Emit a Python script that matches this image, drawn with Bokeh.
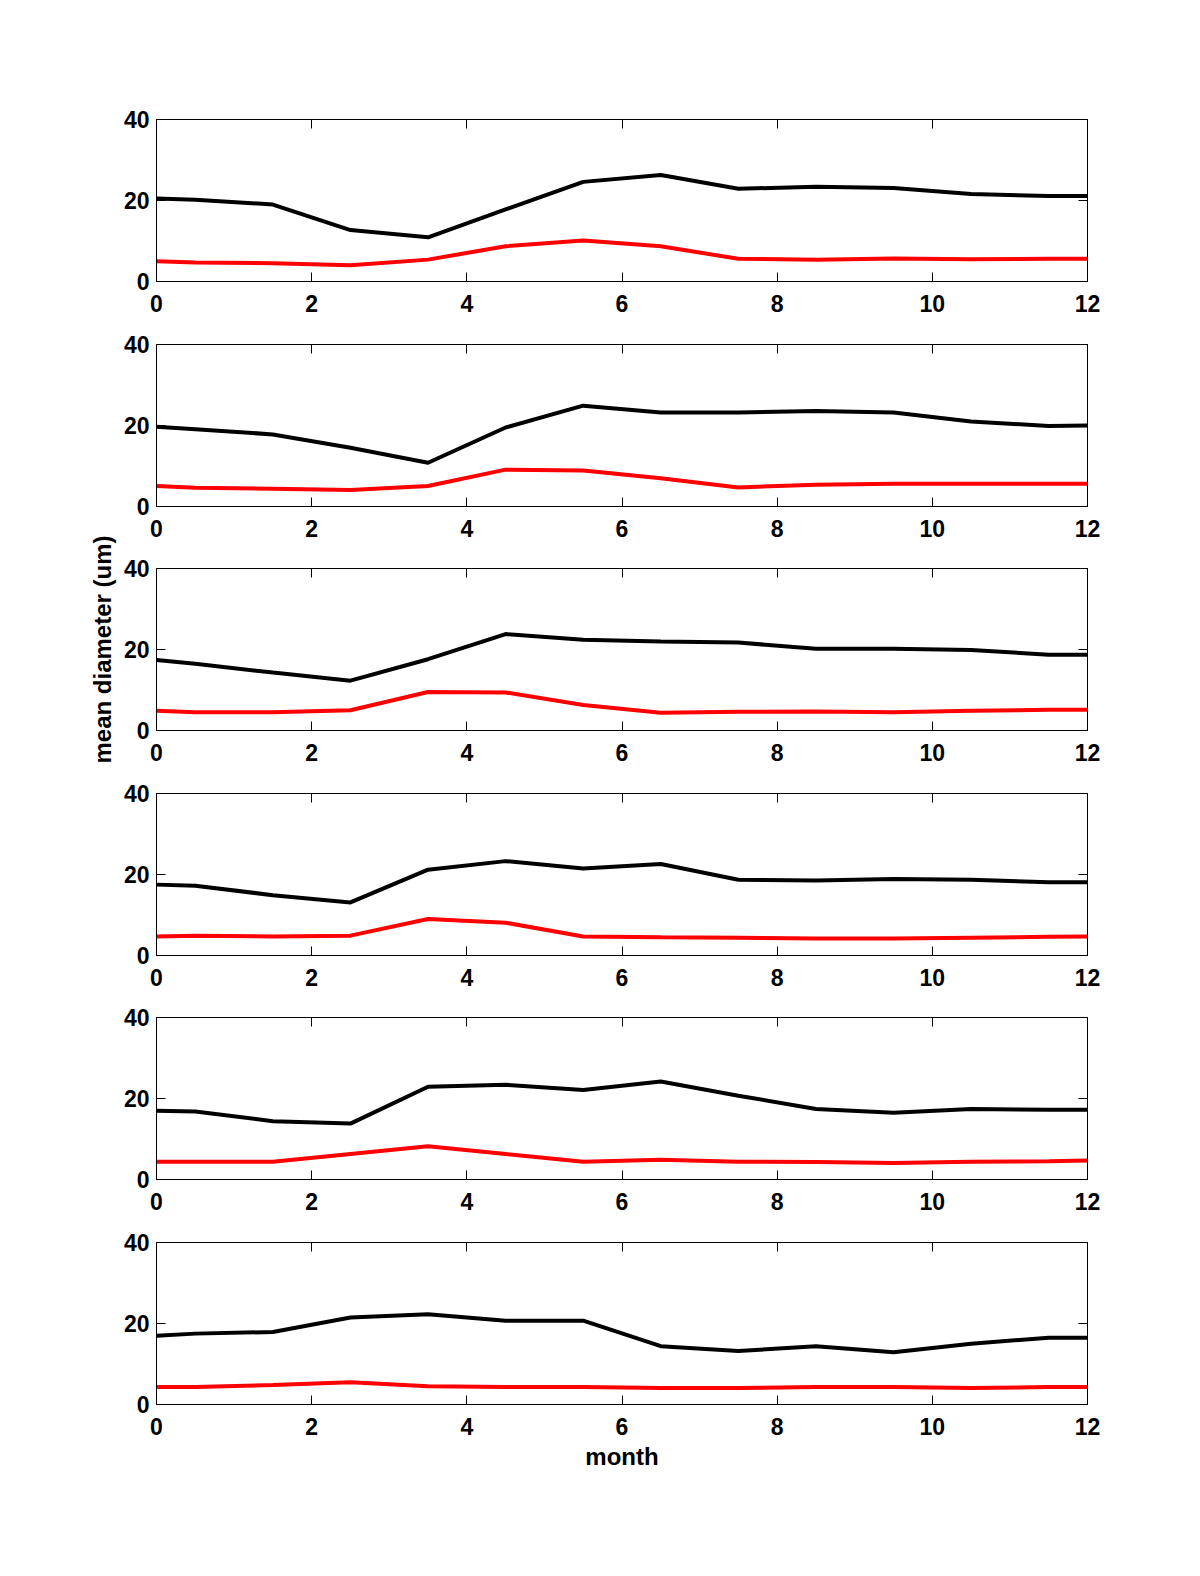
import math
from bokeh.plotting import figure
from bokeh.layouts import column, row
from bokeh.models import Range1d, FixedTicker, LinearAxis, Label
from bokeh.embed import file_html
from bokeh.resources import INLINE

# month positions (mid-month samples plus both ends)
months = [0, 0.5, 1.5, 2.5, 3.5, 4.5, 5.5, 6.5, 7.5, 8.5, 9.5, 10.5, 11.5, 12]

black_1 = [20.5, 20.2, 19.0, 12.7, 10.9, 17.8, 24.6, 26.3, 22.9, 23.4, 23.1, 21.6, 21.1, 21.1]
red_1 = [5.0, 4.7, 4.5, 4.0, 5.4, 8.7, 10.1, 8.7, 5.6, 5.4, 5.7, 5.5, 5.6, 5.6]

black_2 = [19.7, 19.1, 17.8, 14.5, 10.8, 19.5, 24.9, 23.2, 23.2, 23.6, 23.2, 21.0, 19.9, 20.0]
red_2 = [5.05, 4.6, 4.4, 4.1, 5.05, 9.1, 8.9, 7.0, 4.7, 5.4, 5.6, 5.6, 5.6, 5.6]

black_3 = [17.4, 16.5, 14.3, 12.3, 17.6, 23.8, 22.4, 22.0, 21.7, 20.2, 20.2, 19.9, 18.7, 18.7]
red_3 = [4.9, 4.5, 4.5, 5.0, 9.5, 9.4, 6.3, 4.4, 4.6, 4.7, 4.5, 4.9, 5.1, 5.1]

black_4 = [17.5, 17.2, 14.9, 13.1, 21.2, 23.3, 21.5, 22.6, 18.7, 18.5, 18.9, 18.7, 18.1, 18.1]
red_4 = [4.7, 4.9, 4.7, 4.9, 9.0, 8.1, 4.7, 4.5, 4.4, 4.2, 4.2, 4.4, 4.6, 4.7]

black_5 = [17.0, 16.8, 14.4, 13.8, 22.9, 23.4, 22.1, 24.2, 20.7, 17.4, 16.5, 17.4, 17.2, 17.2]
red_5 = [4.4, 4.4, 4.4, 6.3, 8.2, 6.3, 4.4, 4.9, 4.4, 4.3, 4.1, 4.4, 4.5, 4.7]

black_6 = [17.0, 17.5, 17.9, 21.5, 22.3, 20.7, 20.7, 14.4, 13.2, 14.4, 12.9, 15.0, 16.5, 16.5]
red_6 = [4.3, 4.3, 4.8, 5.5, 4.5, 4.3, 4.3, 4.1, 4.1, 4.3, 4.3, 4.1, 4.3, 4.3]

x_ticks = [0, 2, 4, 6, 8, 10, 12]
y_ticks = [0, 20, 40]
x_label = "month"
y_label = "mean diameter (um)"

panels = [(black_1, red_1), (black_2, red_2), (black_3, red_3),
          (black_4, red_4), (black_5, red_5), (black_6, red_6)]

FONT = "Liberation Sans"
FS = "23px"
LFS = "24px"
TICK = 9
LEFT_W = 120          # width of the strip that carries the shared y label
FRAME_LEFT = 156

# (top border, bottom border) per panel
borders = [(119, 48), (15, 47), (15, 48), (15, 47), (15, 48), (15, 80)]
FRAME_H = 162


def style_axis(ax):
    ax.major_tick_in = TICK
    ax.major_tick_out = 0
    ax.minor_tick_line_color = None
    ax.major_tick_line_color = "black"
    ax.major_label_text_font = FONT
    ax.major_label_text_font_size = FS
    ax.major_label_text_font_style = "bold"
    ax.major_label_text_color = "black"
    ax.axis_label_text_font = FONT
    ax.axis_label_text_font_size = LFS
    ax.axis_label_text_font_style = "bold"
    ax.axis_label_text_color = "black"


def hide_labels(ax):
    ax.major_label_text_font_size = "1px"
    ax.major_label_text_alpha = 0
    ax.major_label_standoff = 0


figs = []
for i, (blk, red) in enumerate(panels):
    top, bottom = borders[i]
    p = figure(frame_width=931, frame_height=FRAME_H,
               min_border_left=FRAME_LEFT - LEFT_W, min_border_right=111,
               min_border_top=top, min_border_bottom=bottom,
               x_range=Range1d(0, 12), y_range=Range1d(0, 40),
               output_backend="svg", toolbar_location=None,
               background_fill_color="white", border_fill_color="white")
    p.grid.visible = False
    p.outline_line_color = "black"
    p.outline_line_width = 1

    xax = p.xaxis[0]
    yax = p.yaxis[0]
    style_axis(xax)
    style_axis(yax)
    xax.axis_line_color = "black"
    yax.axis_line_color = "black"
    xax.ticker = FixedTicker(ticks=x_ticks)
    yax.ticker = FixedTicker(ticks=y_ticks)
    xax.major_label_standoff = 13
    yax.major_label_standoff = 7

    if i == 5:
        xax.axis_label = x_label
        xax.axis_label_standoff = 5

    # mirrored ticks on top and right
    top_ax = LinearAxis(ticker=FixedTicker(ticks=x_ticks), axis_line_color=None)
    style_axis(top_ax)
    hide_labels(top_ax)
    right_ax = LinearAxis(ticker=FixedTicker(ticks=y_ticks), axis_line_color=None)
    style_axis(right_ax)
    hide_labels(right_ax)
    p.add_layout(top_ax, "above")
    p.add_layout(right_ax, "right")

    p.line(months, blk, line_color="black", line_width=4)
    p.line(months, red, line_color="#ff0000", line_width=4)
    figs.append(p)

total_h = sum(t + FRAME_H + b for t, b in borders)

# narrow strip on the left holding the shared y-axis label (centred on panel 3)
strip = figure(width=LEFT_W, height=total_h, min_border=0,
               x_axis_location=None, y_axis_location=None,
               output_backend="svg", toolbar_location=None,
               background_fill_color="white", border_fill_color="white")
strip.outline_line_color = None
strip.grid.visible = False
panel3_top = sum(t + FRAME_H + b for t, b in borders[:2]) + borders[2][0]
label_y = total_h - (panel3_top + FRAME_H / 2)
strip.add_layout(Label(x=101.5, y=label_y, x_units="screen", y_units="screen",
                       text=y_label, angle=math.pi / 2,
                       text_align="center", text_baseline="middle",
                       text_font=FONT, text_font_size=LFS,
                       text_font_style="bold", text_color="black"))

layout = row(strip, column(*figs, spacing=0), spacing=0)
open("out.html", "w").write(file_html(layout, INLINE))
